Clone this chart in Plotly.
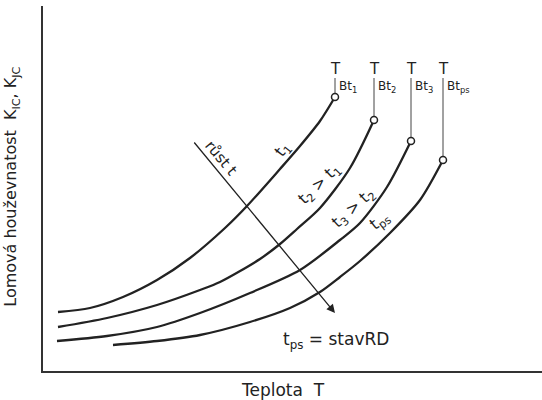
import plotly.graph_objects as go

# Fracture toughness K_IC / K_JC versus temperature for increasing exposure time t
T_t1 = [15, 47, 80, 114, 147, 182, 204, 237, 257, 277, 292]
K_t1 = [59, 63, 74, 91, 113, 143, 165, 202, 225, 250, 274]

T_t2 = [15, 64, 114, 157, 177, 217, 237, 254, 277, 307, 331]
K_t2 = [44, 53, 66, 81, 89, 112, 127, 142, 163, 203, 251]

T_t3 = [14, 64, 114, 157, 207, 257, 297, 317, 344, 368]
K_t3 = [30, 35, 44, 58, 78, 101, 131, 148, 184, 230]

T_tps = [70, 114, 157, 207, 247, 277, 297, 317, 347, 377, 400]
K_tps = [26, 30, 36, 49, 63, 79, 94, 110, 138, 171, 211]

curves = [(T_t1, K_t1), (T_t2, K_t2), (T_t3, K_t3), (T_tps, K_tps)]
end_subs = ["1", "2", "3", "ps"]
K_label_top = 293

# "růst t" arrow: start and end (T, K)
arrow_T = [150, 292]
arrow_K = [230, 58]

FONT = "DejaVu Sans"
INK = "#222222"

fig = go.Figure()

for T, K in curves:
    fig.add_trace(go.Scatter(
        x=T, y=K, mode="lines",
        line=dict(color=INK, width=2.3, shape="spline", smoothing=0.8),
        hoverinfo="skip", showlegend=False))

annotations = []
for (T, K), sub in zip(curves, end_subs):
    tb, kb = T[-1], K[-1]
    # thin leader from the end point up to the T_Bt label
    fig.add_trace(go.Scatter(
        x=[tb, tb], y=[kb, K_label_top], mode="lines",
        line=dict(color="#444444", width=1),
        hoverinfo="skip", showlegend=False))
    annotations.append(dict(
        x=tb, y=K_label_top, xref="x", yref="y", text="T", showarrow=False,
        xanchor="center", yanchor="bottom", yshift=-2,
        font=dict(family=FONT, size=15, color=INK)))
    annotations.append(dict(
        x=tb, y=K_label_top - 9, xref="x", yref="y",
        text="Bt<sub>" + sub + "</sub>", showarrow=False,
        xanchor="left", yanchor="middle", xshift=2,
        font=dict(family=FONT, size=12, color=INK)))

# open circles at the curve ends
fig.add_trace(go.Scatter(
    x=[c[0][-1] for c in curves], y=[c[1][-1] for c in curves],
    mode="markers",
    marker=dict(size=7, color="white", line=dict(color=INK, width=1.5)),
    hoverinfo="skip", showlegend=False))

# direction of increasing time
annotations.append(dict(
    x=arrow_T[1], y=arrow_K[1], ax=arrow_T[0], ay=arrow_K[0],
    xref="x", yref="y", axref="x", ayref="y", text="",
    showarrow=True, arrowhead=2, arrowsize=1.3, arrowwidth=1.3,
    arrowcolor=INK))

curve_labels = [
    ("růst t", 178, 213, 50, 15),
    ("t<sub>1</sub>", 239, 221, -52, 16),
    ("t<sub>2</sub> > t<sub>1</sub>", 276, 187, -44, 16),
    ("t<sub>3</sub> > t<sub>2</sub>", 310, 163, -42, 16),
    ("t<sub>ps</sub>", 336, 150, -38, 16),
]
for txt, x, y, ang, sz in curve_labels:
    annotations.append(dict(
        x=x, y=y, xref="x", yref="y", text=txt, showarrow=False,
        textangle=ang, xanchor="center", yanchor="middle",
        font=dict(family=FONT, size=sz, color=INK)))

annotations.append(dict(
    x=293, y=31, xref="x", yref="y", text="t<sub>ps</sub> = stavRD",
    showarrow=False, xanchor="center", yanchor="middle",
    font=dict(family=FONT, size=17, color=INK)))

# axis titles
annotations.append(dict(
    x=0.48, y=-0.052, xref="paper", yref="paper", text="Teplota  T",
    showarrow=False, xanchor="center", yanchor="middle",
    font=dict(family=FONT, size=17, color=INK)))
annotations.append(dict(
    x=-0.062, y=0.505, xref="paper", yref="paper",
    text="Lomová houževnatost\u00a0\u00a0K<sub>IC</sub>, K<sub>JC</sub>",
    showarrow=False, textangle=-90, xanchor="center", yanchor="middle",
    font=dict(family=FONT, size=16, color=INK)))

fig.update_layout(
    width=542, height=400,
    margin=dict(l=43, r=0, t=6, b=29),
    paper_bgcolor="white", plot_bgcolor="white",
    annotations=annotations,
    xaxis=dict(range=[0, 499], showgrid=False, zeroline=False,
               showticklabels=False, ticks="", showline=True,
               linecolor="#333333", linewidth=1.5, fixedrange=True),
    yaxis=dict(range=[0, 365], showgrid=False, zeroline=False,
               showticklabels=False, ticks="", showline=True,
               linecolor="#333333", linewidth=1.5, fixedrange=True),
)

fig.write_html("out.html")
